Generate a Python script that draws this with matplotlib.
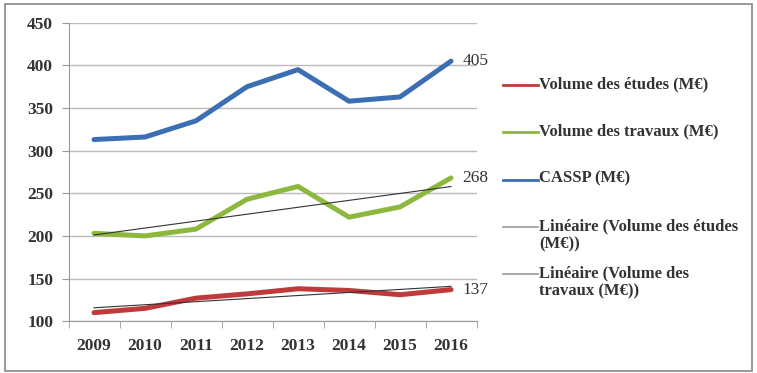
import numpy as np
import matplotlib.pyplot as plt
from matplotlib.lines import Line2D
from matplotlib.patches import Rectangle

# Data
years = ['2009', '2010', '2011', '2012', '2013', '2014', '2015', '2016']
etudes = [110, 115, 127, 132, 138, 136, 131, 137]
travaux = [203, 200, 208, 243, 258, 222, 234, 268]
cassp = [313, 316, 335, 375, 395, 358, 363, 405]

c_red = '#c0393b'
c_green = '#8db83e'
c_blue = '#3c6eb4'
txt = '#333333'

plt.rcParams['font.family'] = ['Liberation Serif', 'DejaVu Serif']
plt.rcParams['font.weight'] = 'bold'

fig = plt.figure(figsize=(7.57, 3.73), dpi=100)
ax = fig.add_axes([0.0905, 0.139, 0.539, 0.8])

x = np.arange(len(years))
ax.plot(x, etudes, color=c_red, lw=3.6, solid_capstyle='round', zorder=3)
ax.plot(x, travaux, color=c_green, lw=3.6, solid_capstyle='round', zorder=3)
ax.plot(x, cassp, color=c_blue, lw=3.6, solid_capstyle='round', zorder=3)

# linear trends
for s in (etudes, travaux):
    k, b = np.polyfit(x, s, 1)
    ax.plot(x, k * x + b, color='#333333', lw=0.8, zorder=4)

# end labels
for s in (etudes, travaux, cassp):
    ax.annotate(str(s[-1]), (x[-1], s[-1]), xytext=(8, 0), textcoords='offset points',
                va='center', ha='left', fontsize=12.5, fontweight='normal', color=txt)

ax.set_xlim(-0.5, len(years) - 0.5)
ax.set_ylim(100, 450)
ax.set_yticks(range(100, 451, 50))
ax.set_xticks(x)
ax.set_xticklabels(years)
ax.set_xticks(np.arange(-0.5, len(years), 1), minor=True)
ax.tick_params(axis='x', which='major', length=0, pad=12, labelsize=12.5, labelcolor=txt)
ax.tick_params(axis='x', which='minor', length=5, color='#999999')
ax.tick_params(axis='y', length=5, color='#999999', labelsize=12.5, pad=6, labelcolor=txt)
ax.yaxis.grid(True, color='#bbbbbb', lw=1)
ax.set_axisbelow(True)
for side in ('top', 'right'):
    ax.spines[side].set_visible(False)
ax.spines['left'].set_color('#999999')
ax.spines['bottom'].set_color('#999999')

# legend drawn Excel style, handle aligned to first line of text
labels = ['Volume des études (M€)', 'Volume des travaux (M€)', 'CASSP (M€)',
          'Linéaire (Volume des études\n(M€))', 'Linéaire (Volume des\ntravaux (M€))']
lcolors = [c_red, c_green, c_blue, '#999999', '#999999']
lwidths = [2, 2, 2, 1.2, 1.2]
W, H = 757, 373
y0, step = 85, 47.3
for i, (lab, col, lw) in enumerate(zip(labels, lcolors, lwidths)):
    yy = 1 - (y0 + i * step) / H
    fig.add_artist(Line2D([503 / W, 538 / W], [yy, yy], color=col, lw=lw))
    fig.text(539 / W, yy + 9 / H, lab, va='top', ha='left', fontsize=12, color=txt,
             linespacing=1.2)

fig.add_artist(Rectangle((5 / W, 2 / H), 747 / W, 367 / H, fill=False,
                         edgecolor='#888888', lw=1.2, transform=fig.transFigure))

fig.savefig('out.png', dpi=100)
